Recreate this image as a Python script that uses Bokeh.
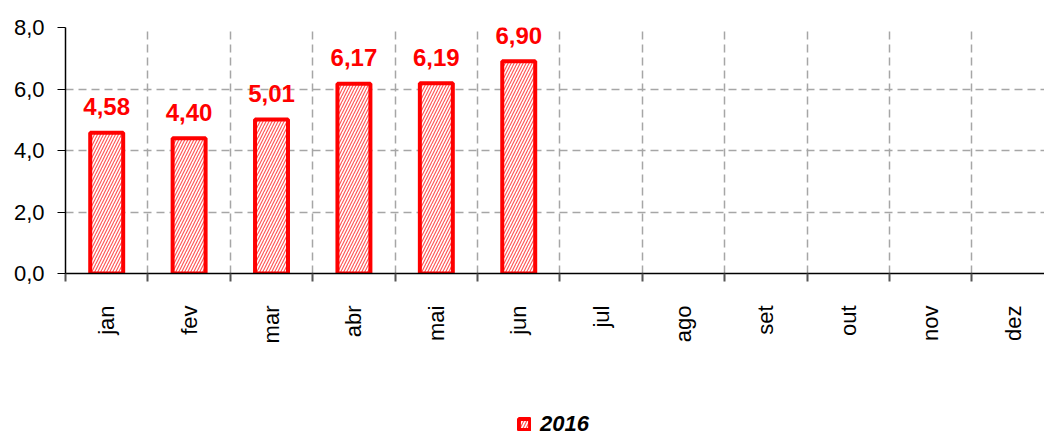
import math
import numpy as np
from bokeh.plotting import figure
from bokeh.layouts import column
from bokeh.models import (ColumnDataSource, Range1d, FixedTicker, Legend, LegendItem)
from bokeh.core.properties import value
from bokeh.embed import file_html
from bokeh.resources import INLINE

months = ["jan", "fev", "mar", "abr", "mai", "jun", "jul", "ago", "set", "out", "nov", "dez"]
values_2016 = [4.58, 4.40, 5.01, 6.17, 6.19, 6.90]
series_name = "2016"
y_ticks = [0, 2, 4, 6, 8]
y_tick_labels = ["0,0", "2,0", "4,0", "6,0", "8,0"]

FONT = "Liberation Sans"
RED = "#FF0000"
BAR_STYLE = dict(fill_color="white", line_color=RED, line_width=4,
                 hatch_pattern="/", hatch_color=RED, hatch_scale=6,
                 hatch_weight=1.2, hatch_alpha=0.65)

xs = [i + 0.5 for i in range(len(values_2016))]
src = ColumnDataSource(dict(
    x=xs,
    top=values_2016,
    label=[f"{v:.2f}".replace(".", ",") for v in values_2016],
))

p = figure(width=1044, height=410, output_backend="svg", toolbar_location=None,
           x_range=Range1d(0, 11.88), y_range=Range1d(0, 8),
           min_border_left=65, min_border_right=0, min_border_top=27, min_border_bottom=137)
p.outline_line_color = None
p.background_fill_color = "white"
p.border_fill_color = "white"

bars = p.vbar(x="x", top="top", bottom=0, width=0.40, source=src, **BAR_STYLE)

p.text(x="x", y="top", text="label", source=src, y_offset=-26,
       text_align="center", text_baseline="alphabetic",
       text_font=value(FONT), text_font_size="24px", text_font_style="bold",
       text_color=RED)

# x axis: labels at category centres, ticks at boundaries
xax = p.xaxis[0]
xax.ticker = FixedTicker(ticks=[i + 0.5 for i in range(len(months))],
                         minor_ticks=list(range(len(months) + 1)))
xax.major_label_overrides = {i + 0.5: m for i, m in enumerate(months)}
xax.major_label_orientation = math.pi / 2
xax.major_tick_line_color = None
xax.major_tick_out = 0
xax.major_tick_in = 0
xax.minor_tick_out = 8
xax.minor_tick_in = 0
xax.minor_tick_line_color = "#555555"
xax.minor_tick_line_width = 2
xax.major_label_standoff = 24
xax.major_label_text_font = FONT
xax.major_label_text_font_size = "22px"
xax.major_label_text_color = "black"
xax.axis_line_color = "black"
xax.axis_line_width = 1.5

yax = p.yaxis[0]
yax.ticker = FixedTicker(ticks=y_ticks)
yax.major_label_overrides = {t: l for t, l in zip(y_ticks, y_tick_labels)}
yax.major_tick_out = 8
yax.major_tick_in = 0
yax.major_tick_line_color = "black"
yax.minor_tick_line_color = None
yax.major_label_standoff = 13
yax.major_label_text_font = FONT
yax.major_label_text_font_size = "22px"
yax.major_label_text_color = "black"
yax.axis_line_color = "black"
yax.axis_line_width = 1.5

p.xgrid.ticker = FixedTicker(ticks=list(range(1, len(months) + 1)))
p.xgrid.grid_line_color = "#a6a6a6"
p.xgrid.grid_line_dash = "8 5"
p.xgrid.grid_line_width = 1.5
p.ygrid.ticker = FixedTicker(ticks=y_ticks[1:])
p.ygrid.grid_line_color = "#a6a6a6"
p.ygrid.grid_line_dash = "8 5"
p.ygrid.grid_line_width = 1.5

# legend strip below the chart (its frame is aligned with the chart's frame)
lg = figure(width=1044, height=27, output_backend="svg", toolbar_location=None,
            x_range=Range1d(0, 1), y_range=Range1d(0, 1),
            min_border=0, x_axis_type=None, y_axis_type=None)
lg.outline_line_color = None
lg.xgrid.visible = False
lg.ygrid.visible = False
# legend key only: one row with no position, so nothing is drawn in the strip
key_src = ColumnDataSource(dict(x=np.array([np.nan]), top=np.array([np.nan])))
key = lg.vbar(x="x", top="top", bottom=0, width=0.1, source=key_src, **BAR_STYLE)
legend = Legend(items=[LegendItem(label=series_name, renderers=[key])],
                location=(452, 0), orientation="horizontal",
                glyph_width=14, glyph_height=14, label_standoff=9,
                padding=0, margin=0, border_line_color=None,
                background_fill_alpha=0,
                label_text_font=FONT, label_text_font_size="22px",
                label_text_font_style="bold italic", label_text_color="black")
lg.add_layout(legend, "center")

layout = column(p, lg, spacing=0)
open("out.html", "w").write(file_html(layout, INLINE))
